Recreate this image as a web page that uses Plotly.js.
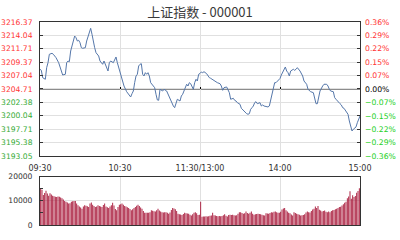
<!DOCTYPE html>
<html><head><meta charset="utf-8">
<script src="https://cdn.plot.ly/plotly-3.0.1.min.js"></script>
<style>html,body{margin:0;padding:0;background:#fff}#chart{width:400px;height:240px}</style>
</head><body><div id="chart"></div>
<script>
const BASE = 3204.71;
const timeTickVals = [0, 60, 120, 180, 240];
const timeTickText = ['09:30', '10:30', '11:30/13:00', '14:00', '15:00'];
const priceTicks = [3193.05, 3195.38, 3197.71, 3200.04, 3202.38, 3204.71, 3207.04, 3209.37, 3211.71, 3214.04, 3216.37];
const priceLabels = ['3193.05','3195.38','3197.71','3200.04','3202.38','3204.71','3207.04','3209.37','3211.71','3214.04','3216.37'];
const pctLabels = ['\u22120.36%','\u22120.29%','\u22120.22%','\u22120.15%','\u22120.07%','0.00%','0.07%','0.15%','0.22%','0.29%','0.36%'];
const volTickVals = [0, 10000, 20000];
const volTickText = ['0', '10000', '20000'];

const minutes = [0,1,2,4,5,6,7,9,10,11,12,14,15,16,17,19,20,21,22,23,24,25,26,27,28,29,30,31,32,34,35,36,37,38,39,40,41,42,43,44,45,46,47,48,50,51,52,53,55,56,57,58,60,61,62,63,65,66,67,68,69,70,71,72,73,74,75,76,77,78,79,80,81,82,83,85,86,87,88,89,90,92,93,95,96,97,98,100,101,102,103,105,106,107,108,110,111,112,113,115,116,117,118,119,120,121,122,123,125,126,127,128,130,131,132,133,135,136,137,138,140,141,142,143,145,146,147,148,150,151,152,153,155,156,157,158,159,160,161,162,163,165,166,167,168,170,171,172,173,174,175,176,177,178,180,181,182,183,184,185,186,187,188,190,191,192,193,195,196,197,198,200,201,202,203,205,206,207,208,209,210,212,213,215,216,217,218,220,221,222,223,225,226,227,228,230,231,232,233,234,235,236,237,238,240];
const prices = [3208.14,3207.96,3206.68,3206.40,3208.42,3209.29,3210.75,3210.92,3210.75,3210.45,3210.16,3209.29,3208.42,3207.55,3207.15,3207.27,3209.29,3209.58,3209.46,3211.32,3212.49,3213.06,3213.93,3213.64,3213.06,3213.19,3212.77,3211.90,3211.79,3211.90,3213.06,3213.93,3214.80,3215.27,3214.23,3212.77,3211.90,3211.03,3210.75,3210.45,3209.58,3209.29,3209.01,3209.58,3208.14,3207.84,3209.29,3209.58,3209.29,3209.88,3210.28,3209.29,3207.67,3206.97,3206.40,3205.23,3204.24,3203.89,3203.49,3203.32,3203.89,3204.36,3205.81,3206.97,3207.27,3208.71,3209.01,3209.11,3207.27,3206.97,3207.55,3207.27,3207.55,3206.97,3205.81,3205.23,3204.94,3203.79,3202.80,3202.74,3204.66,3204.36,3204.66,3204.36,3203.79,3203.20,3202.62,3201.75,3201.46,3202.05,3202.92,3202.62,3203.49,3203.79,3204.36,3205.53,3205.23,3205.81,3205.63,3204.66,3205.81,3206.40,3206.10,3207.27,3207.41,3207.67,3207.55,3207.72,3207.37,3206.97,3206.68,3206.57,3206.22,3206.10,3205.98,3205.81,3205.63,3205.23,3204.48,3204.94,3205.06,3204.66,3204.07,3202.92,3203.09,3202.74,3202.62,3202.33,3202.05,3201.35,3201.00,3200.88,3200.41,3200.31,3200.41,3201.18,3201.46,3201.75,3202.33,3202.50,3202.15,3202.33,3201.75,3201.93,3201.75,3201.58,3201.58,3201.75,3202.92,3204.07,3205.23,3205.81,3205.81,3206.02,3206.54,3207.15,3207.55,3207.96,3208.54,3207.84,3207.55,3206.97,3207.84,3208.14,3207.96,3208.14,3208.42,3207.84,3207.37,3206.97,3206.10,3205.53,3204.66,3204.36,3204.24,3204.07,3203.09,3202.15,3202.15,3203.49,3204.36,3205.23,3205.53,3205.53,3205.23,3204.66,3204.36,3204.24,3203.20,3202.92,3202.62,3202.15,3201.93,3201.46,3201.35,3200.76,3200.31,3199.14,3198.27,3197.40,3197.70,3197.87,3198.10,3198.85,3200.01];

const volumes = [
14800,14500,12400,13200,14100,13000,12100,13100,12600,12100,
11900,11700,11500,11800,11700,11300,11000,10500,9900,9600,
9300,8850,9000,9600,9800,9900,9850,8850,8150,7600,
7200,6700,7600,8150,7900,7700,7450,8850,9250,8300,
7800,7450,7600,8150,7800,7600,7450,8200,8850,7600,
7300,7000,7600,8150,9150,8000,6600,6050,7400,8400,
8600,8850,8300,7850,7600,7300,7000,6600,6050,6500,
7000,7450,7900,8400,7800,7200,6700,5800,5000,5100,
5000,5000,5300,6050,5900,5700,5600,6100,6700,6000,
5600,5300,5200,5300,5300,5000,4600,5200,6200,7000,
6800,6450,5800,4600,4400,4300,4150,4500,5000,4800,
4700,4600,4200,3900,4400,5000,5300,4800,4150,4200,
9600,3400,3500,3500,3600,3500,3600,3800,3900,5000,
4000,3900,3700,3600,3700,3600,3700,4000,4400,3800,
3500,4100,4200,4100,4200,4000,3900,4000,4600,5300,
5300,4900,4600,4800,5600,4900,4600,5000,5600,4600,
4200,4400,4500,4600,4500,4400,4200,4000,3900,4800,
4700,4600,4900,5300,5200,5500,5600,5300,5100,5000,
5500,6400,6800,7000,6100,5600,5100,4800,4300,3900,
5300,4900,4600,4400,4200,3900,4000,4150,4400,5200,
5600,5300,5200,5800,6400,6700,7600,7000,7800,6300,
6000,5600,5800,6000,5500,5300,5600,5300,5800,6100,
6200,6500,6700,7000,7400,7500,8000,8600,9200,9600,
11000,11800,13900,10800,12300,11500,12000,13300,14000,15200];
const volX = volumes.map((v, i) => i + 0.5);

const RED = '#ff3333', GREEN_L = '#33aa33', GREEN_R = '#22d022';
const leftText = priceLabels.map((t, i) => `<span style="color:${priceTicks[i] >= BASE ? RED : GREEN_L}">${t}</span>`);
const rightText = pctLabels.map((t, i) => {
  const c = priceTicks[i] > BASE ? RED : (priceTicks[i] < BASE ? GREEN_R : '#000000');
  return `<span style="color:${c}">${t}</span>`;
});

const TF = 'DejaVu Sans';
const yMin = priceTicks[0], yMax = priceTicks[priceTicks.length - 1];
const mainDomain = [0.34, 1];
const basePos = mainDomain[0] + (BASE - yMin) / (yMax - yMin) * (mainDomain[1] - mainDomain[0]);

const traces = [
  {type: 'bar', x: volX, y: volumes, xaxis: 'x', yaxis: 'y3', marker: {color: '#a8183a', line: {width: 0}}, hoverinfo: 'skip'},
  {type: 'scatter', mode: 'lines', x: minutes, y: prices, xaxis: 'x', yaxis: 'y', line: {color: '#5577aa', width: 1}, hoverinfo: 'skip'},
  {type: 'scatter', mode: 'lines', x: [], y: [], xaxis: 'x', yaxis: 'y2', hoverinfo: 'skip'},
  {type: 'scatter', mode: 'lines', x: [], y: [], xaxis: 'x2', yaxis: 'y', hoverinfo: 'skip'}
];

const layout = {
  width: 400, height: 240,
  margin: {l: 40, r: 40, t: 22, b: 15},
  paper_bgcolor: '#ffffff', plot_bgcolor: '#ffffff',
  showlegend: false,
  bargap: 0.3,
  title: {text: '上证指数 - 000001', font: {family: 'Noto Sans CJK SC', size: 13, color: '#3a3a3a'},
          x: 0.5, xanchor: 'center', y: 0.947, yanchor: 'middle', yref: 'container'},
  xaxis: {range: [0, 240], tickvals: timeTickVals, ticktext: timeTickText, showgrid: true, gridcolor: '#e0e0e0', gridwidth: 1,
          showline: true, linecolor: '#333333', linewidth: 1, mirror: 'all', ticks: '', zeroline: false, ticklabelstandoff: 4,
          tickfont: {family: TF, size: 8, color: '#333333'}, anchor: 'y'},
  xaxis2: {range: [0, 240], overlaying: 'x', anchor: 'free', position: basePos, tickvals: [60, 120, 180, 240],
           ticks: 'inside', ticklen: 2, tickcolor: '#000000', showticklabels: false, showgrid: false, showline: false, zeroline: false},
  yaxis: {domain: mainDomain, range: [yMin, yMax], tickvals: priceTicks, ticktext: leftText, showgrid: true, gridcolor: '#e0e0e0',
          ticks: 'inside', ticklen: 3, tickcolor: '#333333', showline: true, linecolor: '#333333', mirror: 'ticks', zeroline: false,
          ticklabelstandoff: 5, tickfont: {family: TF, size: 7.6}},
  yaxis2: {overlaying: 'y', side: 'right', range: [yMin, yMax], tickvals: priceTicks, ticktext: rightText, showgrid: false,
           ticks: '', showline: false, zeroline: false, ticklabelstandoff: 4, tickfont: {family: TF, size: 7.7}},
  yaxis3: {domain: [0, 0.2389], range: [0, 20000], tickvals: volTickVals, ticktext: volTickText, showgrid: true, gridcolor: '#e0e0e0',
           ticks: 'inside', ticklen: 3, tickcolor: '#333333', showline: true, linecolor: '#333333', mirror: true, zeroline: false,
           minor: {dtick: 5000, ticks: 'inside', ticklen: 3, tickcolor: '#333333', showgrid: false},
           ticklabelstandoff: 5, tickfont: {family: TF, size: 7.6, color: '#333333'}, anchor: 'x'},
  shapes: [{type: 'line', xref: 'paper', x0: 0, x1: 1, yref: 'y', y0: BASE, y1: BASE, line: {color: '#8c8c8c', width: 2}, layer: 'below'}]
};

Plotly.newPlot('chart', traces, layout, {staticPlot: true, displayModeBar: false});
</script></body></html>
